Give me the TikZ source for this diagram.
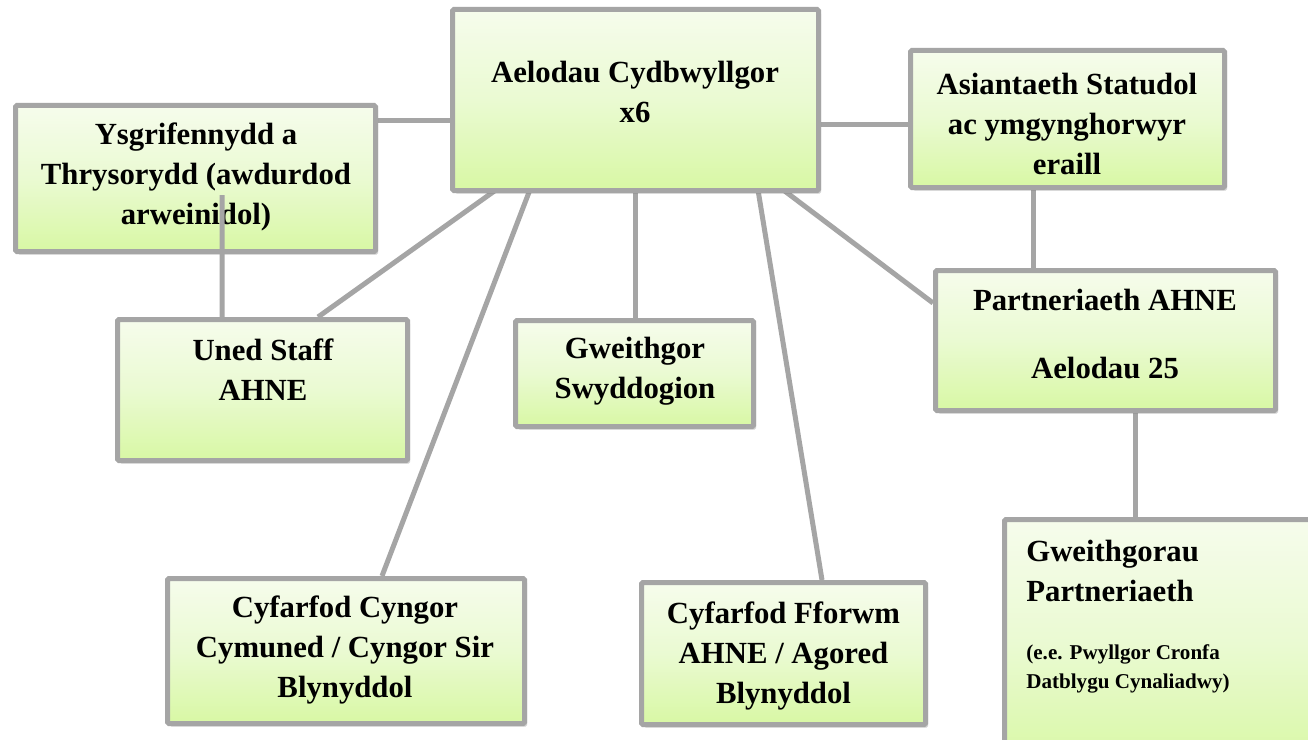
\documentclass[tikz,border=0pt]{standalone}
\usepackage{fontspec}
\setmainfont{Liberation Serif}
\usetikzlibrary{shadows,calc}
\newdimen\px
\px=0.02cm
\definecolor{edgegray}{RGB}{165,165,165}
\definecolor{boxtop}{RGB}{246,252,236}
\definecolor{boxmid}{RGB}{234,250,210}
\definecolor{boxbot}{RGB}{216,248,164}
\pgfdeclarelayer{bg}
\pgfsetlayers{bg,main}
\tikzset{
  orgbox/.style={rectangle, draw=edgegray, line width=5\px, rounded corners=1.5\px,
    top color=boxtop, bottom color=boxbot, middle color=boxmid,
    drop shadow={shadow xshift=2.5\px, shadow yshift=-3\px, opacity=0.3, fill=black!60},
    inner sep=0pt},
  lbl/.style={font=\bfseries\fontsize{17.5}{22.7}\selectfont, align=center, inner sep=0pt, text=black},
  smalllbl/.style={font=\bfseries\fontsize{12}{16.4}\selectfont, align=left, inner sep=0pt, text=black},
  conn/.style={draw=edgegray, line width=5\px}
}
\begin{document}
\begin{tikzpicture}[x=0.02cm,y=-0.02cm]
\useasboundingbox (0,0) rectangle (1308,740);
\begin{pgfonlayer}{bg}
\fill[white] (0,0) rectangle (1308,740);
\end{pgfonlayer}
\clip (0,0) rectangle (1308,740);

% boxes
\node[orgbox, minimum width=366\px, minimum height=181\px] (top) at (635.5,100) {};
\node[orgbox, minimum width=360\px, minimum height=146\px] (ysg) at (195.5,178.5) {};
\node[orgbox, minimum width=314\px, minimum height=137\px] (asi) at (1067.5,119) {};
\node[orgbox, minimum width=290\px, minimum height=141\px] (uned) at (262.5,390) {};
\node[orgbox, minimum width=238\px, minimum height=106\px] (gwg) at (634.5,373.5) {};
\node[orgbox, minimum width=340\px, minimum height=140\px] (part) at (1105.5,340.5) {};
\node[orgbox, minimum width=357\px, minimum height=145\px] (cyn) at (346,651) {};
\node[orgbox, minimum width=284\px, minimum height=142\px] (ffo) at (783.5,653.5) {};
\node[orgbox, minimum width=333\px, minimum height=248\px] (gwp) at (1171,643.5) {};

% texts
\node[lbl] (ttop) at (635,92) {Aelodau Cydbwyllgor\\x6};
\node[lbl] (tysg) at (196,177) {Ysgrifennydd a\\Thrysorydd (awdurdod\\arweinidol)};
\node[lbl] (tasi) at (1067,124) {Asiantaeth Statudol\\ac ymgynghorwyr\\eraill};
\node[lbl] (tuned) at (263,370) {Uned Staff\\AHNE};
\node[lbl] (tgwg) at (635,371) {Gweithgor\\Swyddogion};
\node[lbl] (tpart) at (1105,334) {Partneriaeth AHNE\\[15.9pt]Aelodau 25};
\node[lbl] (tcyn) at (345,650) {Cyfarfod Cyngor\\Cymuned / Cyngor Sir\\Blynyddol};
\node[lbl] (tffo) at (783.5,656) {Cyfarfod Fforwm\\AHNE / Agored\\Blynyddol};
\node[lbl, align=left, anchor=west] (tgwp) at (1026,571) {Gweithgorau\\Partneriaeth};
\node[smalllbl, anchor=west] (tgwps) at (1026,668.5) {(e.e. Pwyllgor Cronfa\\Datblygu Cynaliadwy)};

% connector helper coordinates
\coordinate (a1) at ([xshift=-34.5\px]asi.south);
\coordinate (p1) at ([xshift=29.5\px]part.south);
\coordinate (y1) at ([yshift=57.5\px]ysg.east);

% connectors behind the boxes
\begin{pgfonlayer}{bg}
\draw[conn] (y1) -- (y1 -| top.west);
\draw[conn] ([yshift=-25\px]top.east) -- ([yshift=-6\px]asi.west);
\draw[conn] ([xshift=-135.5\px,yshift=6\px]top.south) -- ([xshift=55.5\px]uned.north);
\draw[conn] ([xshift=-104.5\px,yshift=6\px]top.south) -- ([xshift=36\px]cyn.north);
\draw[conn] (top.south) -- (top.south |- gwg.north);
\draw[conn] ([xshift=122.5\px,yshift=3\px]top.south) -- ([xshift=38.5\px]ffo.north);
\draw[conn] ([xshift=-37\px,yshift=2.5\px]top.south east) -- ([yshift=37.5\px]part.west);
\draw[conn] (a1) -- (a1 |- part.north);
\draw[conn] (p1) -- (p1 |- gwp.north);
\end{pgfonlayer}

% connector drawn over the secretary box
\draw[conn] ([xshift=26.5\px,yshift=59\px]ysg.south) -- ([xshift=-40.5\px]uned.north);
\end{tikzpicture}
\end{document}
